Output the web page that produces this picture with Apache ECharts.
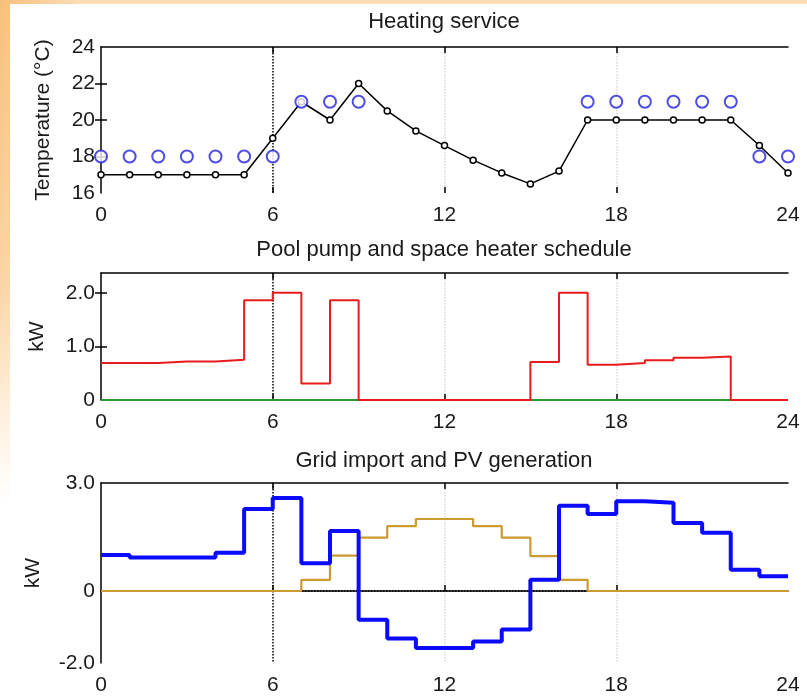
<!DOCTYPE html>
<html><head><meta charset="utf-8">
<script src="https://cdn.jsdelivr.net/npm/echarts@6/dist/echarts.min.js"></script>
<style>
html,body{margin:0;padding:0;}
body{width:807px;height:696px;position:relative;overflow:hidden;
background:linear-gradient(to right, rgba(255,255,255,0) 0px, rgba(255,255,255,0.45) 80px),
linear-gradient(to bottom, #f8c07a 0%, #fbd4a2 40%, #fef0de 60%, #ffffff 72%);}
#bg{position:absolute;left:10px;top:4px;right:0;bottom:0;background:#fff;}
#c{position:absolute;left:0;top:0;width:807px;height:696px;}
</style>
</head><body><div id="bg"></div><div id="c"></div>
<script>
// ---- data ----
const hours = [0,1,2,3,4,5,6,7,8,9,10,11,12,13,14,15,16,17,18,19,20,21,22,23,24];
const xTickValues = [0,6,12,18,24];
const titles = ['Heating service','Pool pump and space heater schedule','Grid import and PV generation'];
const tempActual = [17,17,17,17,17,17,19,21,20,22,20.5,19.4,18.6,17.8,17.1,16.5,17.2,20,20,20,20,20,20,18.6,17.1];
const setpointHours = [0,1,2,3,4,5,6,7,8,9,17,18,19,20,21,22,23,24];
const setpointTemps = [18,18,18,18,18,18,18,21,21,21,21,21,21,21,21,21,18,18];
const pumpPower = [0.69,0.69,0.72,0.72,0.75,1.86,2.0,0.31,1.86,0,0,0,0,0,0,0.71,2.0,0.66,0.69,0.74,0.79,0.81,0,0,0];
const heaterPower = [0,0,0,0,0,0,0,0,0,0,0,0,0,0,0,0,0,0,0,0,0,0,0,0,0];
const gridImport = [1.0,0.93,0.93,0.93,1.06,2.28,2.58,0.77,1.67,-0.8,-1.32,-1.58,-1.58,-1.4,-1.07,0.31,2.37,2.14,2.49,2.45,1.89,1.62,0.59,0.41,0.41];
const pvGeneration = [0,0,0,0,0,0,0,0.31,0.98,1.48,1.8,2.0,2.0,1.8,1.48,0.97,0.31,0,0,0,0,0,0,0,0];
const tempTicks = [16,18,20,22,24];
const kwTicksMid = [0,1,2];
const kwTicksBottom = [-2,0,3];

// ---- chart ----
const FONT = 'Liberation Sans, Arial, Helvetica, sans-serif';
const TXT = '#1a1a1a';
const pair = (xs, ys) => xs.map((x, i) => [x, ys[i]]);
const fmtKW = v => (v === 0 ? '0' : v.toFixed(1));

const grids = [
  {left:101, right:19, top:47, height:146},
  {left:101, right:19, top:273, height:127},
  {left:101, right:19, top:483, height:182}
];

function xAxesFor(gi, showBottomLine) {
  return [{
    type:'value', gridIndex:gi, position:'bottom', min:0, max:24, interval:6,
    axisLine:{show:showBottomLine, lineStyle:{color:'#000', width:1.5}},
    axisTick:{show:true, inside:true, length:6, customValues:[6,12,18], lineStyle:{color:'#000', width:1.5}},
    axisLabel:{fontSize:21, color:TXT, margin:12, fontFamily:FONT, customValues:xTickValues},
    splitLine:{show:true, lineStyle:{type:'dotted', width:1.5, color:['#000','#d8d8d8','#d8d8d8','rgba(0,0,0,0)']}}
  },{
    type:'value', gridIndex:gi, position:'top', min:0, max:24, interval:6,
    axisLine:{show:true, onZero:false, lineStyle:{color:'#000', width:1.5}},
    axisTick:{show:true, inside:true, length:6, customValues:[6,12,18], lineStyle:{color:'#000', width:1.5}},
    axisLabel:{show:false}, splitLine:{show:false}
  }];
}
function yAxesFor(gi, min, max, labelVals, tickVals, name, nameGap, fmt) {
  return [{
    type:'value', gridIndex:gi, position:'left', min:min, max:max,
    name:name, nameLocation:'middle', nameGap:nameGap, nameRotate:90,
    nameTextStyle:{fontSize:21, color:TXT, fontFamily:FONT},
    axisLine:{show:true, onZero:false, lineStyle:{color:'#000', width:1.5}},
    axisTick:{show:tickVals.length>0, inside:true, length:6, customValues:tickVals, lineStyle:{color:'#000', width:1.5}},
    axisLabel:{fontSize:21, color:TXT, margin:6, fontFamily:FONT, customValues:labelVals, formatter:fmt},
    splitLine:{show:false}
  },{
    type:'value', gridIndex:gi, position:'right', min:min, max:max,
    axisLine:{show:false},
    axisTick:{show:tickVals.length>0, inside:true, length:6, customValues:tickVals, lineStyle:{color:'#000', width:1.5}},
    axisLabel:{show:false}, splitLine:{show:false}
  }];
}

const option = {
  animation:false,
  backgroundColor:'transparent',
  textStyle:{fontFamily:FONT},
  title: titles.map((t, i) => ({
    text:t, left:444, top:[11,239,450][i], textAlign:'center', padding:0,
    textStyle:{fontSize:22, fontWeight:'normal', color:TXT, fontFamily:FONT}
  })),
  grid: grids,
  xAxis: [].concat(xAxesFor(0,false), xAxesFor(1,false), xAxesFor(2,true)),
  yAxis: [].concat(
    yAxesFor(0,16,24,tempTicks,[18,20,22],'Temperature (\u00B0C)',47, v => String(v)),
    yAxesFor(1,0,2.37,kwTicksMid,[1,2],'kW',53, fmtKW),
    yAxesFor(2,-2,3,kwTicksBottom,[],'kW',57, fmtKW)
  ),
  series: [
    {type:'line', name:'Indoor temperature', xAxisIndex:0, yAxisIndex:0, data:pair(hours, tempActual),
     symbol:'circle', symbolSize:6, z:3,
     lineStyle:{color:'#000', width:1.5}, itemStyle:{color:'#fff', borderColor:'#000', borderWidth:1.5}},
    {type:'scatter', name:'Setpoint', xAxisIndex:0, yAxisIndex:0, data:pair(setpointHours, setpointTemps),
     symbol:'emptyCircle', symbolSize:12, z:4,
     itemStyle:{color:'#2020e0', borderColor:'#2020e0', borderWidth:2}},
    {type:'line', name:'Space heater', xAxisIndex:2, yAxisIndex:2, data:pair(hours, heaterPower),
     step:'end', showSymbol:false, z:2, lineStyle:{color:'#2a9a2a', width:2}},
    {type:'line', name:'Pool pump', xAxisIndex:2, yAxisIndex:2, data:pair(hours, pumpPower),
     step:'end', showSymbol:false, z:3, lineStyle:{color:'#e81c1c', width:2}},
    {type:'line', name:'PV generation', xAxisIndex:4, yAxisIndex:4, data:pair(hours, pvGeneration),
     step:'end', showSymbol:false, z:3, lineStyle:{color:'#cc9a30', width:2.2},
     markLine:{z:1, silent:true, symbol:'none', label:{show:false},
       lineStyle:{type:'dotted', color:'#000', width:1.5}, data:[{yAxis:0}]}},
    {type:'line', name:'Grid import', xAxisIndex:4, yAxisIndex:4, data:pair(hours, gridImport),
     step:'end', showSymbol:false, z:4, lineStyle:{color:'#0a0aff', width:4}}
  ]
};
const chart = echarts.init(document.getElementById('c'), null, {renderer:'canvas'});
chart.setOption(option);
</script>
</body></html>
